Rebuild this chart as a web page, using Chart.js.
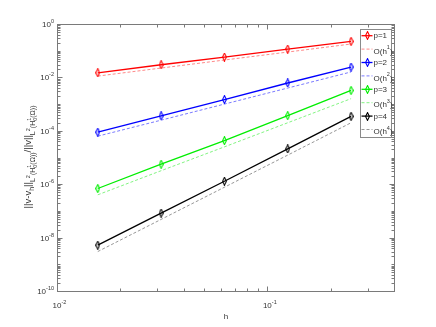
<!DOCTYPE html>
<html><head><meta charset="utf-8">
<script src="https://cdn.jsdelivr.net/npm/chart.js@4/dist/chart.umd.min.js"></script>
<style>html,body{margin:0;padding:0;background:#fff;overflow:hidden}#wrap{width:436px;height:327px}</style>
</head><body><div id="wrap"><canvas id="c" width="436" height="327"></canvas></div>
<script>
// ---- data ----
const h = [0.015625, 0.03125, 0.0625, 0.125, 0.25];
const errP1 = [1.49e-2, 2.98e-2, 5.79e-2, 1.153e-1, 2.23e-1];
const errP2 = [8.9e-5, 3.63e-4, 1.48e-3, 6.17e-3, 2.45e-2];
const errP3 = [6.9e-7, 5.6e-6, 4.27e-5, 3.7e-4, 3.24e-3];
const errP4 = [5.2e-9, 8.3e-8, 1.29e-6, 2.09e-5, 3.47e-4];
const refO1 = [1.12e-2, 2.24e-2, 4.47e-2, 8.9e-2, 1.78e-1];
const refO2 = [6.3e-5, 2.5e-4, 1.0e-3, 4.0e-3, 1.6e-2];
const refO3 = [4.0e-7, 3.2e-6, 2.5e-5, 2.0e-4, 1.6e-3];
const refO4 = [3.0e-9, 4.8e-8, 7.7e-7, 1.23e-5, 2.0e-4];
const legendLabels = ['p=1', 'O(h^1)', 'p=2', 'O(h^2)', 'p=3', 'O(h^3)', 'p=4', 'O(h^4)'];
const xMajorTicks = [0.01, 0.1];
const xMinorTicks = [0.02, 0.03, 0.04, 0.05, 0.06, 0.07, 0.08, 0.09, 0.2, 0.3, 0.4];
const yMajorExps = [0, -2, -4, -6, -8, -10];
const xLabel = 'h';

const FONT = '"Liberation Sans Narrow", "Liberation Sans", Arial, sans-serif';
const AXIS_COLOR = '#7a7a7a';
const TEXT_COLOR = '#333333';

function diamond(color) {
  const c = document.createElement('canvas');
  c.width = 5; c.height = 9;
  const g = c.getContext('2d');
  g.strokeStyle = color; g.lineWidth = 1.1;
  g.beginPath();
  g.moveTo(2.5, 0.6); g.lineTo(4.4, 4.5); g.lineTo(2.5, 8.4); g.lineTo(0.6, 4.5); g.closePath();
  g.stroke();
  return c;
}

function pts(ys) { return h.map((x, i) => ({x: x, y: ys[i]})); }

const solidColors = ['#ff0000', '#0000ff', '#00ee00', '#000000'];
const dashColors = ['rgba(255,90,90,0.9)', 'rgba(70,70,255,0.9)', 'rgba(90,240,90,0.95)', 'rgba(110,110,110,0.9)'];
const errs = [errP1, errP2, errP3, errP4];
const refs = [refO1, refO2, refO3, refO4];

const datasets = [];
for (let i = 0; i < 4; i++) {
  datasets.push({
    label: legendLabels[2 * i], data: pts(errs[i]),
    borderColor: solidColors[i], borderWidth: 1.3,
    pointStyle: diamond(solidColors[i]), pointRadius: 4, pointHoverRadius: 4,
    fill: false, tension: 0
  });
  datasets.push({
    label: legendLabels[2 * i + 1], data: pts(refs[i]),
    borderColor: dashColors[i], borderWidth: 0.8, borderDash: [3, 2],
    pointRadius: 0, fill: false, tension: 0
  });
}

function drawPowerLabel(ctx, base, exp, x, y, align) {
  ctx.font = '8px ' + FONT;
  const wb = ctx.measureText(base).width;
  ctx.font = '5.5px ' + FONT;
  const we = ctx.measureText(exp).width;
  let sx;
  if (align === 'right') sx = x - wb - we;
  else sx = x - wb / 2;
  ctx.fillStyle = TEXT_COLOR;
  ctx.textBaseline = 'alphabetic';
  ctx.textAlign = 'left';
  ctx.font = '8px ' + FONT;
  ctx.fillText(base, sx, y);
  ctx.font = '5.5px ' + FONT;
  ctx.fillText(exp, sx + wb, y - 4);
}

function drawRich(ctx, segs, x, y) {
  let total = 0;
  const widths = segs.map(s => {
    if (s[0] === 'stack') {
      ctx.font = s[3] + 'px ' + FONT;
      return Math.max(ctx.measureText(s[1]).width, ctx.measureText(s[2]).width);
    }
    ctx.font = s[1] + 'px ' + FONT;
    return ctx.measureText(s[0]).width;
  });
  widths.forEach(w => total += w);
  let cx = x - total / 2;
  ctx.textAlign = 'left'; ctx.textBaseline = 'alphabetic';
  segs.forEach((s, i) => {
    if (s[0] === 'stack') {
      ctx.font = s[3] + 'px ' + FONT;
      ctx.fillText(s[1], cx, y + s[4]);
      ctx.fillText(s[2], cx, y + s[5]);
    } else {
      ctx.font = s[1] + 'px ' + FONT;
      ctx.fillText(s[0], cx, y + s[2]);
    }
    cx += widths[i];
  });
}

const yLabelSegs = [
  ['||v-v', 9.5, 0], ['h', 7, 2.5], ['||', 9.5, 0], ['L', 7, 3.5], ['2', 5.5, -1.5],
  ['(H', 7, 3.5], ['stack', '0', '1', 5.5, 5.5, -0.5], ['(\u03A9))', 7, 3.5],
  ['/||v||', 9.5, 0], ['L', 7, 3.5], ['2', 5.5, -1.5],
  ['(H', 7, 3.5], ['stack', '0', '1', 5.5, 5.5, -0.5], ['(\u03A9))', 7, 3.5]
];

const axesPlugin = {
  id: 'matlabAxes',
  afterDraw(chart) {
    const ctx = chart.ctx;
    const a = chart.chartArea;
    const xs = chart.scales.x, ys = chart.scales.y;
    ctx.save();
    ctx.strokeStyle = AXIS_COLOR; ctx.lineWidth = 1;
    const L = Math.round(a.left) + 0.5, R = Math.round(a.right) + 0.5;
    const T = Math.round(a.top) + 0.5, B = Math.round(a.bottom) + 0.5;
    ctx.strokeRect(L, T, R - L, B - T);
    ctx.beginPath();
    const xt = (v, len) => {
      const px = Math.round(xs.getPixelForValue(v)) + 0.5;
      ctx.moveTo(px, B); ctx.lineTo(px, B - len);
      ctx.moveTo(px, T); ctx.lineTo(px, T + len);
    };
    xMajorTicks.forEach(v => xt(v, 5));
    xMinorTicks.forEach(v => xt(v, 3));
    const yt = (v, len) => {
      const py = Math.round(ys.getPixelForValue(v)) + 0.5;
      ctx.moveTo(L, py); ctx.lineTo(L + len, py);
      ctx.moveTo(R, py); ctx.lineTo(R - len, py);
    };
    for (let e = 0; e >= -10; e--) {
      const major = yMajorExps.indexOf(e) >= 0;
      yt(Math.pow(10, e), major ? 5 : 3);
      if (e > -10) for (let k = 2; k <= 9; k++) yt(k * Math.pow(10, e - 1), 3);
    }
    ctx.stroke();
    yMajorExps.forEach(e => {
      const py = ys.getPixelForValue(Math.pow(10, e));
      drawPowerLabel(ctx, '10', String(e), a.left - 3, py + 3, 'right');
    });
    xMajorTicks.forEach(v => {
      const px = xs.getPixelForValue(v);
      drawPowerLabel(ctx, '10', String(Math.round(Math.log10(v))), px, B + 16, 'center');
    });
    ctx.fillStyle = TEXT_COLOR;
    ctx.font = '8px ' + FONT; ctx.textAlign = 'center'; ctx.textBaseline = 'alphabetic';
    ctx.fillText(xLabel, 226, 319);
    ctx.save();
    ctx.translate(31, 157);
    ctx.rotate(-Math.PI / 2);
    ctx.fillStyle = TEXT_COLOR;
    drawRich(ctx, yLabelSegs, 0, 0);
    ctx.restore();

    // legend
    const lx = 360.5, ly = 29.5, lw = 31, lh = 108;
    ctx.fillStyle = '#ffffff';
    ctx.fillRect(lx, ly, lw, lh);
    ctx.strokeStyle = '#8a8a8a'; ctx.lineWidth = 1;
    ctx.strokeRect(lx, ly, lw, lh);
    chart.data.datasets.forEach((ds, i) => {
      const ry = 35.7 + i * 13.4;
      ctx.save();
      ctx.strokeStyle = ds.borderColor;
      ctx.lineWidth = ds.borderWidth;
      ctx.setLineDash(ds.borderDash || []);
      ctx.beginPath(); ctx.moveTo(lx + 1, ry); ctx.lineTo(lx + 12, ry); ctx.stroke();
      ctx.restore();
      if (ds.pointRadius > 0) {
        ctx.drawImage(ds.pointStyle, Math.round(lx + 6.5 - 2.5), Math.round(ry - 4.5));
      }
      const lab = ds.label;
      ctx.fillStyle = TEXT_COLOR; ctx.textAlign = 'left'; ctx.textBaseline = 'middle';
      ctx.font = '8px ' + FONT;
      const parts = lab.split('^');
      let tx = lx + 13;
      if (parts.length === 1) {
        ctx.fillText(lab, tx, ry + 0.5);
      } else {
        const base = parts[0];
        const ex = parts[1].slice(0, -1);
        ctx.fillText(base, tx, ry + 2.5);
        tx += ctx.measureText(base).width;
        ctx.font = '5.5px ' + FONT;
        ctx.fillText(ex, tx, ry - 1.5);
        tx += ctx.measureText(ex).width;
        ctx.font = '8px ' + FONT;
        ctx.fillText(')', tx, ry + 2.5);
      }
    });
    ctx.restore();
  }
};

new Chart(document.getElementById('c'), {
  type: 'line',
  data: { datasets: datasets },
  options: {
    responsive: false, animation: false, devicePixelRatio: 1,
    layout: { padding: { left: 57, right: 42, top: 24, bottom: 36 } },
    scales: {
      x: { type: 'logarithmic', min: 0.01, max: 0.4, display: false },
      y: { type: 'logarithmic', min: 1e-10, max: 1, display: false }
    },
    plugins: { legend: { display: false }, tooltip: { enabled: false } },
    elements: { line: { borderCapStyle: 'butt' } }
  },
  plugins: [axesPlugin]
});
</script>
</body></html>
